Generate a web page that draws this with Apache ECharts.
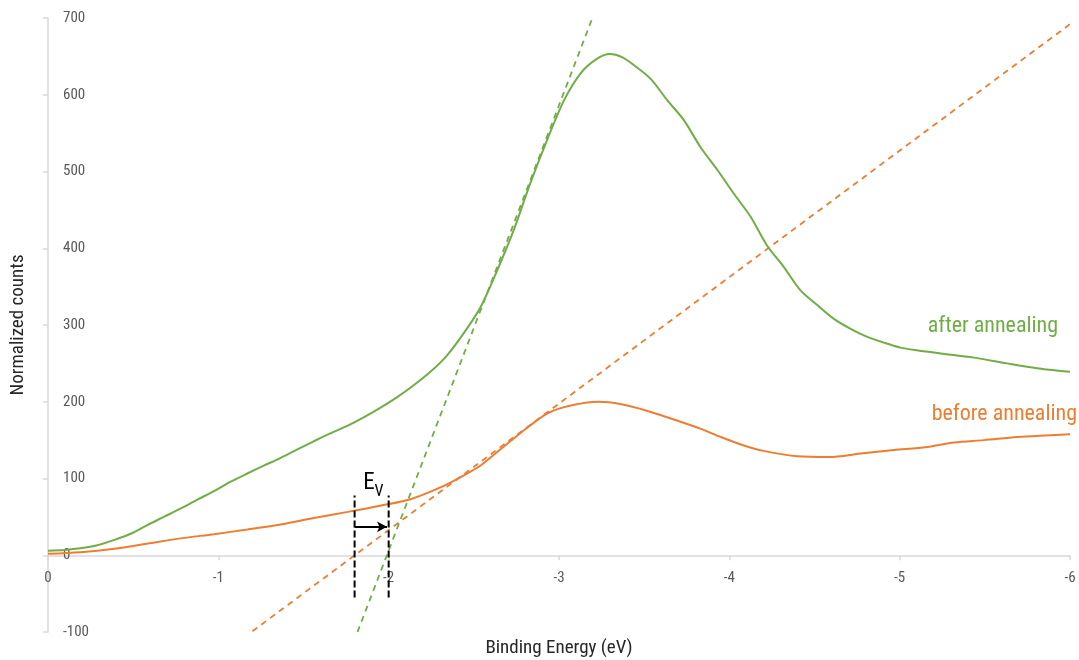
<!DOCTYPE html>
<html>
<head>
<meta charset="utf-8">
<title>Valence band edge</title>
<script src="https://cdn.jsdelivr.net/npm/echarts@6/dist/echarts.min.js"></script>
<style>
  html, body { margin: 0; padding: 0; background: #fff; }
  #chart { width: 1079px; height: 660px; }
</style>
</head>
<body>
<div id="chart"></div>
<script>
// Binding energy (eV) / normalized counts, after annealing
var afterAnnealing = [
  [0, 6], [-0.1, 7], [-0.19, 9], [-0.29, 13], [-0.39, 20], [-0.485, 28], [-0.58, 39],
  [-0.68, 50], [-0.78, 61], [-0.877, 72.5], [-0.975, 83.5], [-1.07, 95.5], [-1.17, 106.5],
  [-1.27, 117], [-1.366, 127], [-1.464, 138], [-1.56, 148.5], [-1.66, 159], [-1.76, 169],
  [-1.856, 180], [-1.95, 192], [-2.05, 206], [-2.147, 221.5], [-2.245, 239], [-2.343, 260.5],
  [-2.44, 289], [-2.54, 323.5], [-2.637, 371], [-2.734, 423.5], [-2.83, 484], [-2.93, 541],
  [-3.03, 593], [-3.127, 628], [-3.224, 647], [-3.3, 653], [-3.37, 649], [-3.44, 638.5],
  [-3.537, 621], [-3.635, 593], [-3.733, 567], [-3.83, 532], [-3.93, 502], [-4.027, 471],
  [-4.125, 441], [-4.22, 404], [-4.32, 375.5], [-4.418, 345], [-4.516, 326], [-4.614, 308],
  [-4.712, 295], [-4.81, 284.5], [-4.907, 277], [-5.005, 270.5], [-5.1, 267], [-5.24, 263],
  [-5.436, 257.5], [-5.63, 250], [-5.83, 243], [-6.0, 239]
];

// Binding energy (eV) / normalized counts, before annealing
var beforeAnnealing = [
  [0, 2], [-0.19, 4], [-0.39, 8.5], [-0.58, 15], [-0.78, 22], [-0.975, 27.5], [-1.17, 33.5],
  [-1.366, 40], [-1.56, 48.5], [-1.76, 56.5], [-1.95, 64.5], [-2.128, 73], [-2.3, 88],
  [-2.44, 104], [-2.54, 117], [-2.637, 134.5], [-2.734, 152], [-2.83, 169], [-2.93, 184.5],
  [-3.03, 193], [-3.165, 199], [-3.234, 200], [-3.36, 197], [-3.52, 188], [-3.713, 174],
  [-3.83, 165], [-3.95, 154], [-4.085, 143], [-4.2, 136], [-4.4, 129], [-4.585, 128],
  [-4.77, 132.5], [-4.966, 137], [-5.16, 141], [-5.32, 147], [-5.495, 150], [-5.69, 154],
  [-5.85, 156], [-6.0, 157.5]
];

// Linear extrapolations of the leading edges (end points)
var tangentAfter = [[-1.817, -100], [-3.196, 700]];
var tangentBefore = [[-1.2, -99], [-6.0, 692]];

// Valence band maxima
var evBefore = -1.8;
var evAfter = -2.0;
var markerSpan = [-55, 78];
var shiftArrowY = 37;

// Axis ticks
var xTicks = [0, -1, -2, -3, -4, -5, -6];
var yTicks = [-100, 0, 100, 200, 300, 400, 500, 600, 700];

var GREEN = '#70AD47';
var ORANGE = '#ED7D31';
var AXIS = '#D9D9D9';
var TEXT = '#595959';
var FONT = '"Liberation Sans Narrow", "Roboto Condensed", "Arial Narrow", "Liberation Sans", sans-serif';

// Plot box
var GRID = { left: 48, right: 9, top: 18, bottom: 28 };
var PLOT_H = 660 - GRID.top - GRID.bottom;
// distance from the bottom edge of the plot up to the zero line
var zeroLift = PLOT_H * (0 - yTicks[0]) / (yTicks[yTicks.length - 1] - yTicks[0]);

var chart = echarts.init(document.getElementById('chart'), null, { renderer: 'canvas' });

chart.setOption({
  animation: false,
  backgroundColor: '#fff',
  textStyle: { fontFamily: FONT },
  grid: { left: GRID.left, right: GRID.right, top: GRID.top, bottom: GRID.bottom,
          containLabel: false, outerBoundsMode: 'none' },
  xAxis: {
    type: 'value',
    inverse: true,
    position: 'bottom',
    offset: -zeroLift,
    min: xTicks[xTicks.length - 1],
    max: xTicks[0],
    interval: 1,
    name: 'Binding Energy (eV)',
    nameLocation: 'middle',
    nameGap: 83,
    nameTextStyle: { fontFamily: FONT, fontSize: 19, color: '#262626' },
    axisLine: { onZero: false, lineStyle: { color: AXIS, width: 1.5 } },
    axisTick: { show: true, length: 5, lineStyle: { color: AXIS, width: 1.5 } },
    axisLabel: { margin: 15, fontFamily: FONT, fontSize: 15, color: TEXT },
    splitLine: { show: false }
  },
  yAxis: {
    type: 'value',
    min: yTicks[0],
    max: yTicks[yTicks.length - 1],
    interval: 100,
    name: 'Normalized counts',
    nameLocation: 'middle',
    nameGap: 20,
    nameRotate: 90,
    nameTextStyle: { fontFamily: FONT, fontSize: 19, color: '#262626' },
    axisLine: { show: true, onZero: false, lineStyle: { color: AXIS, width: 1.5 } },
    axisTick: { show: true, inside: false, length: 5, lineStyle: { color: AXIS, width: 1.5 } },
    axisLabel: { inside: true, margin: 15, fontFamily: FONT, fontSize: 15, color: TEXT },
    splitLine: { show: false }
  },
  series: [
    {
      name: 'after annealing',
      type: 'line',
      data: afterAnnealing,
      smooth: 0.3,
      showSymbol: false,
      silent: true,
      lineStyle: { color: GREEN, width: 2 },
      z: 3,
      markPoint: {
        symbol: 'circle', symbolSize: 0, silent: true,
        label: {
          show: true, position: 'left', distance: 0, fontFamily: FONT, fontSize: 22,
          color: GREEN, align: 'right', verticalAlign: 'middle',
          formatter: function () { return 'after annealing'; }
        },
        data: [{ coord: [-5.93, 298] }]
      }
    },
    {
      name: 'before annealing',
      type: 'line',
      data: beforeAnnealing,
      smooth: 0.3,
      showSymbol: false,
      silent: true,
      lineStyle: { color: ORANGE, width: 2 },
      z: 3,
      markPoint: {
        symbol: 'circle', symbolSize: 0, silent: true,
        label: {
          show: true, position: 'left', distance: 0, fontFamily: FONT, fontSize: 22,
          color: ORANGE, align: 'right', verticalAlign: 'middle', offset: [7, 0],
          formatter: function () { return 'before annealing'; }
        },
        data: [{ coord: [-6.0, 184] }]
      }
    },
    {
      name: 'edge fit after',
      type: 'line',
      data: tangentAfter,
      showSymbol: false,
      silent: true,
      lineStyle: { color: GREEN, width: 1.8, type: [6, 5] },
      z: 2
    },
    {
      name: 'edge fit before',
      type: 'line',
      data: tangentBefore,
      showSymbol: false,
      silent: true,
      lineStyle: { color: ORANGE, width: 1.8, type: [6, 5] },
      z: 2
    },
    {
      name: 'Ev before',
      type: 'line',
      data: [[evBefore, markerSpan[0]], [evBefore, markerSpan[1]]],
      showSymbol: false,
      silent: true,
      lineStyle: { color: '#000', width: 2, type: [7, 3] },
      z: 4
    },
    {
      name: 'Ev after',
      type: 'line',
      data: [[evAfter, markerSpan[0]], [evAfter, markerSpan[1]]],
      showSymbol: false,
      silent: true,
      lineStyle: { color: '#000', width: 2, type: [7, 3] },
      z: 4,
      markLine: {
        silent: true,
        symbol: ['none', 'arrow'],
        symbolSize: [8, 10],
        label: { show: false },
        lineStyle: { color: '#000', width: 2, type: 'solid' },
        data: [[{ coord: [evBefore, shiftArrowY] }, { coord: [evAfter + 0.01, shiftArrowY] }]]
      },
      markPoint: {
        symbol: 'circle', symbolSize: 0, silent: true,
        label: {
          show: true, position: 'inside', fontFamily: FONT, color: '#000',
          formatter: function () { return '{e|E}{v|V}'; },
          rich: {
            e: { fontSize: 23, fontFamily: FONT, color: '#000', verticalAlign: 'bottom' },
            v: { fontSize: 16, fontFamily: FONT, color: '#000', verticalAlign: 'bottom', padding: [0, 0, -5, 0] }
          }
        },
        data: [{ coord: [(evBefore + evAfter) / 2 - 0.01, 94] }]
      }
    }
  ]
});
</script>
</body>
</html>
